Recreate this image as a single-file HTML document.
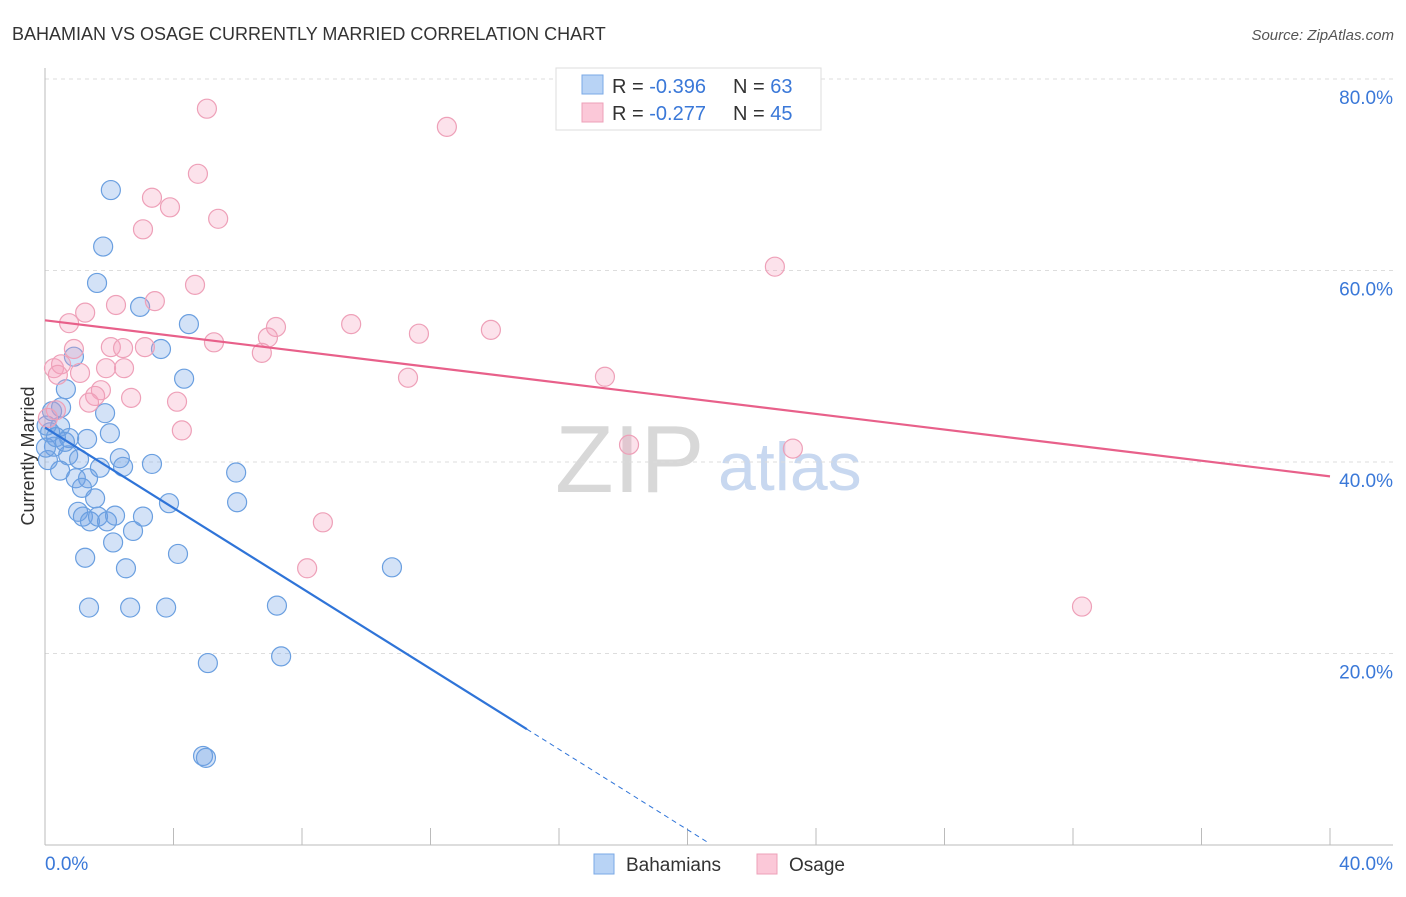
<!DOCTYPE html>
<html><head><meta charset="utf-8"><style>
body{margin:0;background:#fff;font-family:"Liberation Sans",sans-serif;}
svg text{font-family:"Liberation Sans",sans-serif;}
</style></head><body>
<svg id="chart" width="1406" height="892" xmlns="http://www.w3.org/2000/svg">
<text x="12" y="40" font-size="18" fill="#333">BAHAMIAN VS OSAGE CURRENTLY MARRIED CORRELATION CHART</text>
<text x="1394" y="40" font-size="15" fill="#555" font-style="italic" text-anchor="end">Source: ZipAtlas.com</text>
<g>
<text x="555" y="492" font-size="96" fill="#d8d8d8" font-family="Liberation Serif,serif">ZIP</text>
<text x="718" y="490" font-size="68" fill="#c8d8f0">atlas</text>
</g>
<g id="grid"></g>
<g id="axes"></g>
<g id="marks"></g>
<text transform="translate(34,456) rotate(-90)" font-size="18" fill="#333" text-anchor="middle">Currently Married</text>
<g>
<rect x="556" y="68" width="265" height="62" fill="#fff" stroke="#ddd"/>
<rect x="582" y="75" width="21" height="19" fill="#b8d3f5" stroke="#7aa8e6"/>
<text x="612" y="93" font-size="20" fill="#333">R = <tspan fill="#3a78d8">-0.396</tspan></text>
<text x="733" y="93" font-size="20" fill="#333">N = <tspan fill="#3a78d8">63</tspan></text>
<rect x="582" y="103" width="21" height="19" fill="#fbc8d8" stroke="#eea0b8"/>
<text x="612" y="120" font-size="20" fill="#333">R = <tspan fill="#3a78d8">-0.277</tspan></text>
<text x="733" y="120" font-size="20" fill="#333">N = <tspan fill="#3a78d8">45</tspan></text>
</g>
<g>
<rect x="594" y="854" width="20" height="20" fill="#b8d3f5" stroke="#7aa8e6"/>
<text x="626" y="871" font-size="19" fill="#333">Bahamians</text>
<rect x="757" y="854" width="20" height="20" fill="#fbc8d8" stroke="#eea0b8"/>
<text x="789" y="871" font-size="19" fill="#333">Osage</text>
</g>
</svg>
<script>
const blueX=[2.05,1.81,1.62,2.96,4.48,3.61,0.90,4.33,0.65,0.50,1.87,0.22,2.02,0.47,1.31,0.75,0.05,0.28,0.72,1.06,2.33,2.43,1.71,3.33,5.95,0.47,0.96,1.34,1.15,1.56,3.86,5.98,1.03,1.18,1.40,1.65,1.93,2.18,3.05,2.74,2.12,4.14,1.25,2.52,10.80,1.37,2.65,3.77,7.22,5.07,7.35,4.92,5.01,0.09,0.03,0.16,0.34,0.62];
const blueY=[68.4,62.5,58.7,56.2,54.4,51.8,51.0,48.7,47.6,45.7,45.1,45.3,43.0,43.7,42.4,42.5,43.8,41.6,40.7,40.3,40.4,39.5,39.4,39.8,38.9,39.1,38.3,38.3,37.3,36.2,35.7,35.8,34.8,34.3,33.8,34.3,33.8,34.4,34.3,32.8,31.6,30.4,30.0,28.9,29.0,24.8,24.8,24.8,25.0,19.0,19.7,9.3,9.1,40.2,41.5,43.1,42.6,42.1];
const pinkX=[5.04,12.51,4.76,3.33,3.89,5.39,3.05,22.72,4.67,3.42,2.21,1.25,0.75,9.53,7.19,11.64,13.88,6.94,5.26,0.28,0.50,0.90,2.05,2.43,3.11,6.75,1.09,0.40,2.46,1.90,11.30,17.43,1.74,1.56,1.37,2.68,4.11,0.34,4.26,18.18,23.28,8.65,8.16,32.28,0.09];
const pinkY=[76.9,75.0,70.1,67.6,66.6,65.4,64.3,60.4,58.5,56.8,56.4,55.6,54.5,54.4,54.1,53.4,53.8,53.0,52.5,49.8,50.2,51.8,52.0,51.9,52.0,51.4,49.3,49.1,49.8,49.8,48.8,48.9,47.5,46.9,46.2,46.7,46.3,45.4,43.3,41.8,41.4,33.7,28.9,24.9,44.6];
const yTicks=[20,40,60,80];
const yTickLabels=["20.0%","40.0%","60.0%","80.0%"];
const xTicks=[0,4,8,12,16,20,24,28,32,36,40];
const blueTrend=[43.6,-2.1];const blueSolidEnd=15.0;const blueDashEnd=20.7;
const pinkTrend=[54.8,-0.4075];

const NS="http://www.w3.org/2000/svg";
const sx=v=>45+v/40*1285;
const sy=v=>845-v/80*766;
function mk(t,a,p){const e=document.createElementNS(NS,t);for(const k in a)e.setAttribute(k,a[k]);p.appendChild(e);return e;}
const grid=document.getElementById('grid'),axes=document.getElementById('axes'),marks=document.getElementById('marks');
yTicks.forEach((t,i)=>{
 const l=mk('line',{x1:45,x2:1393,y1:sy(t),y2:sy(t),stroke:'#ddd','stroke-dasharray':'4,4'},grid);
 
 
 const tx=mk('text',{x:1393,y:sy(t)+25,'font-size':19,fill:'#3a78d8','text-anchor':'end'},axes);
 tx.textContent=yTickLabels[i];
 
 
});
const ax=mk('line',{x1:45,x2:45,y1:68,y2:845,stroke:'#bbb'},axes);


const bx=mk('line',{x1:45,x2:1393,y1:845,y2:845,stroke:'#bbb'},axes);


xTicks.forEach(t=>{
 const l=mk('line',{x1:sx(t),x2:sx(t),y1:828,y2:845,stroke:'#bbb'},axes);
 
 
});
const xl0=mk('text',{x:45,y:870,'font-size':19,fill:'#3a78d8'},axes);xl0.textContent='0.0%';


const xl1=mk('text',{x:1393,y:870,'font-size':19,fill:'#3a78d8','text-anchor':'end'},axes);xl1.textContent='40.0%';


blueX.forEach((x,i)=>{
 const c=mk('circle',{cx:sx(x),cy:sy(blueY[i]),r:9.5,fill:'rgba(110,160,230,0.3)',stroke:'#6a9fe0','stroke-width':1.2},marks);
 
 
});
pinkX.forEach((x,i)=>{
 const c=mk('circle',{cx:sx(x),cy:sy(pinkY[i]),r:9.5,fill:'rgba(245,160,190,0.3)',stroke:'#eea0b8','stroke-width':1.2},marks);
 
 
});
const by=x=>blueTrend[0]+blueTrend[1]*x;
const bl=mk('line',{x1:sx(0),y1:sy(by(0)),x2:sx(blueSolidEnd),y2:sy(by(blueSolidEnd)),stroke:'#2f74d8','stroke-width':2.2},marks);


const bd=mk('line',{x1:sx(blueSolidEnd),y1:sy(by(blueSolidEnd)),x2:sx(blueDashEnd),y2:sy(by(blueDashEnd)),stroke:'#2f74d8','stroke-width':1,'stroke-dasharray':'5,4'},marks);


const py=x=>pinkTrend[0]+pinkTrend[1]*x;
const pl=mk('line',{x1:sx(0),y1:sy(py(0)),x2:sx(40),y2:sy(py(40)),stroke:'#e8608a','stroke-width':2.2},marks);


</script>
</body></html>
